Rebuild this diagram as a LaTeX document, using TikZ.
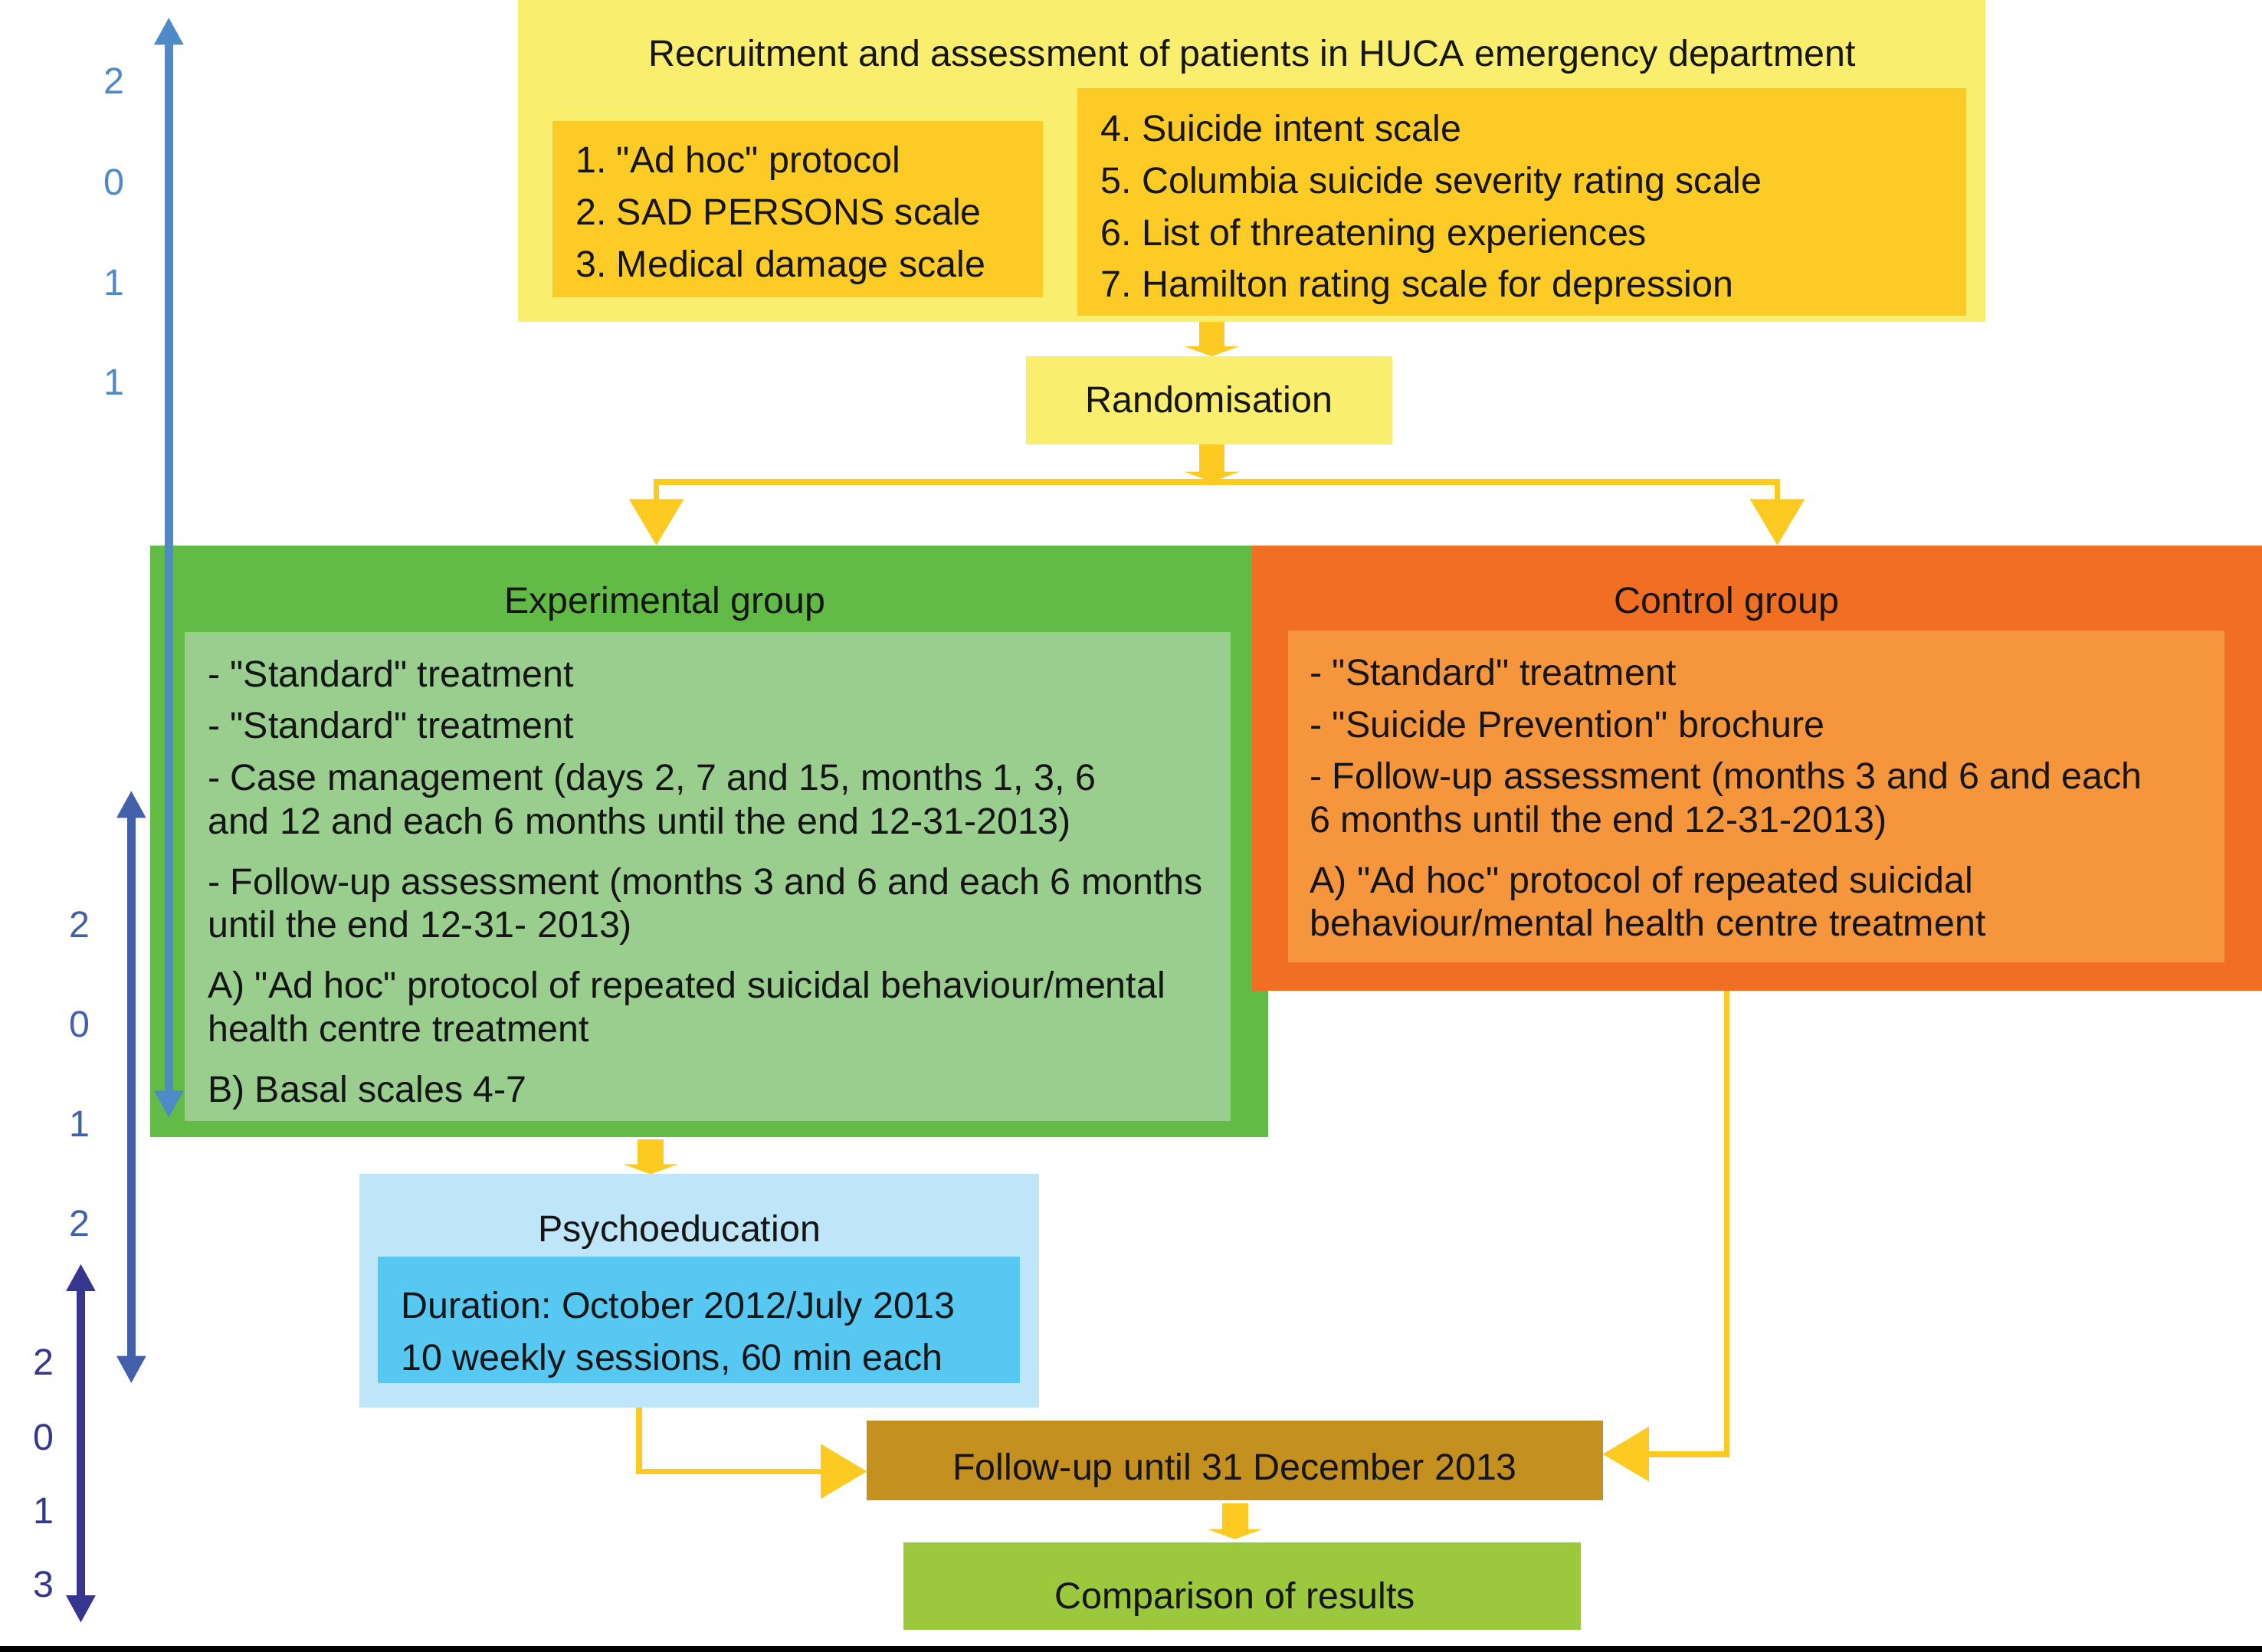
\documentclass[tikz,border=0pt]{standalone}
\usepackage{fontspec}
\setmainfont{Liberation Sans}[Ligatures=TeXOff]
\usetikzlibrary{arrows.meta}
\newcommand\myfs{\fontsize{25.7}{30}\selectfont\frenchspacing}
\definecolor{ylight}{HTML}{FAEE6E}
\definecolor{ydark}{HTML}{FDCB26}
\definecolor{connc}{HTML}{FDCA21}
\definecolor{gout}{HTML}{62BB46}
\definecolor{gin}{HTML}{99CE8F}
\definecolor{oout}{HTML}{F16F22}
\definecolor{oin}{HTML}{F6963C}
\definecolor{bout}{HTML}{BFE6F8}
\definecolor{bin}{HTML}{56C8F2}
\definecolor{folc}{HTML}{C4901F}
\definecolor{cmpc}{HTML}{9BC83D}
\definecolor{aonec}{HTML}{4F8AC8}
\definecolor{atwoc}{HTML}{4360AA}
\definecolor{athreec}{HTML}{37368F}
\definecolor{txtc}{HTML}{151515}
\begin{document}
\begin{tikzpicture}[x=1pt,y=-1pt,
  box/.style={inner sep=0pt,outer sep=0pt,anchor=north west,draw=none},
  txt/.style={inner sep=0pt,outer sep=0pt,anchor=base west,font=\myfs,text=txtc},
  ctxt/.style={inner sep=0pt,outer sep=0pt,anchor=base,font=\myfs,text=txtc},
  num/.style={inner sep=0pt,outer sep=0pt,anchor=base,font=\myfs},
  conn/.style={draw=connc,line width=4pt},
  tipc/.style={-{Triangle[width=37pt,length=32pt]}},
  blk/.style={draw=connc,line width=18pt,-{Triangle[width=38pt,length=7pt]}},
  dbl/.style={line width=6pt,{Triangle[width=19pt,length=19pt]}-{Triangle[width=19pt,length=19pt]}}
]
\useasboundingbox (0,0) rectangle (1568,1145);
\fill[white] (0,0) rectangle (1568,1145);

% boxes
\node[box,fill=ylight,minimum width=1017pt,minimum height=223pt] (top) at (359,0) {};
\node[box,fill=ydark,minimum width=340pt,minimum height=122pt] (tl) at (383,84) {};
\node[box,fill=ydark,minimum width=616pt,minimum height=158pt] (tr) at (747,61) {};
\node[box,fill=ylight,minimum width=254pt,minimum height=61pt] (rand) at (711,247) {};
\node[box,fill=gout,minimum width=775pt,minimum height=410pt] (exp) at (104,378) {};
\node[box,fill=gin,minimum width=725pt,minimum height=339pt] (expin) at (128,438) {};
\node[box,fill=oout,minimum width=700pt,minimum height=309pt] (ctl) at (868,378) {};
\node[box,fill=oin,minimum width=649pt,minimum height=230pt] (ctlin) at (893,437) {};
\node[box,fill=bout,minimum width=471pt,minimum height=162pt] (psy) at (249,814) {};
\node[box,fill=bin,minimum width=445pt,minimum height=88pt] (psyin) at (262,871) {};
\node[box,fill=folc,minimum width=510pt,minimum height=55pt] (fol) at (601,985) {};
\node[box,fill=cmpc,minimum width=470pt,minimum height=61pt] (cmp) at (626,1069) {};

% alignment coordinates
\coordinate (xA) at (840,0);
\coordinate (xB) at (451,0);
\coordinate (xC) at (856,0);
\coordinate (xD) at (443,0);
\coordinate (yD) at (0,1020);
\coordinate (xE) at (1197,0);
\coordinate (yE) at (0,1008);
\coordinate (xF) at (455,0);
\coordinate (xG) at (1232,0);
\coordinate (split) at (840,334);

% connectors
\draw[blk] (top.south -| xA) -- (rand.north -| xA);
\draw[blk] (rand.south -| xA) -- (split);
\draw[conn,tipc] (split) -| (exp.north -| xF);
\draw[conn,tipc] (split) -| (ctl.north -| xG);
\draw[blk] ([yshift=-2pt]exp.south -| xB) -- (psy.north -| xB);
\draw[conn,tipc] (psy.south -| xD) |- (fol.west |- yD);
\draw[conn,tipc] (ctl.south -| xE) |- (fol.east |- yE);
\draw[blk] ([yshift=-2pt]fol.south -| xC) -- ([yshift=2pt]cmp.north -| xC);

% texts
\node[ctxt] (ttitle) at (868,46) {Recruitment and assessment of patients in HUCA emergency department};
\node[txt] (tl1) at (399,120) {1. "Ad hoc" protocol};
\node[txt] (tl2) at (399,156) {2. SAD PERSONS scale};
\node[txt] (tl3) at (399,192) {3. Medical damage scale};
\node[txt] (tr1) at (763,98) {4. Suicide intent scale};
\node[txt] (tr2) at (763,134) {5. Columbia suicide severity rating scale};
\node[txt] (tr3) at (763,170) {6. List of threatening experiences};
\node[txt] (tr4) at (763,206) {7. Hamilton rating scale for depression};
\node[ctxt] (randt) at (838,286) {Randomisation};

\node[ctxt] (expt) at (461,425) {Experimental group};
\node[txt] (e1) at (144,476) {- "Standard" treatment};
\node[txt] (e2) at (144,512) {- "Standard" treatment};
\node[txt] (e3) at (144,548) {- Case management (days 2, 7 and 15, months 1, 3, 6};
\node[txt] (e4) at (144,578) {and 12 and each 6 months until the end 12-31-2013)};
\node[txt] (e5) at (144,620) {- Follow-up assessment (months 3 and 6 and each 6 months};
\node[txt] (e6) at (144,650) {until the end 12-31- 2013)};
\node[txt] (e7) at (144,692) {A) "Ad hoc" protocol of repeated suicidal behaviour/mental};
\node[txt] (e8) at (144,722) {health centre treatment};
\node[txt] (e9) at (144,764) {B) Basal scales 4-7};

\node[ctxt] (ctlt) at (1197,425) {Control group};
\node[txt] (c1) at (908,475) {- "Standard" treatment};
\node[txt] (c2) at (908,511) {- "Suicide Prevention" brochure};
\node[txt] (c3) at (908,547) {- Follow-up assessment (months 3 and 6 and each};
\node[txt] (c4) at (908,577) {6 months until the end 12-31-2013)};
\node[txt] (c5) at (908,619) {A) "Ad hoc" protocol of repeated suicidal};
\node[txt] (c6) at (908,649) {behaviour/mental health centre treatment};

\node[ctxt] (psyt) at (471,861) {Psychoeducation};
\node[txt] (p1) at (278,914) {Duration: October 2012/July 2013};
\node[txt] (p2) at (278,950) {10 weekly sessions, 60 min each};

\node[ctxt] (folt) at (856,1026) {Follow-up until 31 December 2013};
\node[ctxt] (cmpt) at (856,1115) {Comparison of results};

% time arrows
\coordinate (aonet) at (117,12);
\coordinate (aoneb) at (117,775);
\coordinate (atwot) at (91,548);
\coordinate (atwob) at (91,959);
\coordinate (athreet) at (56,876);
\coordinate (athreeb) at (56,1125);
\draw[dbl,aonec] (aonet) -- (aoneb);
\draw[dbl,atwoc] (atwot) -- (atwob);
\draw[dbl,athreec] (athreet) -- (athreeb);

\node[num,text=aonec] (n11) at (79,65) {2};
\node[num,text=aonec] (n12) at (79,135) {0};
\node[num,text=aonec] (n13) at (79,205) {1};
\node[num,text=aonec] (n14) at (79,274) {1};
\node[num,text=atwoc] (n21) at (55,650) {2};
\node[num,text=atwoc] (n22) at (55,719) {0};
\node[num,text=atwoc] (n23) at (55,788) {1};
\node[num,text=atwoc] (n24) at (55,857) {2};
\node[num,text=athreec] (n31) at (30,953) {2};
\node[num,text=athreec] (n32) at (30,1005) {0};
\node[num,text=athreec] (n33) at (30,1056) {1};
\node[num,text=athreec] (n34) at (30,1107) {3};

% bottom rule
\coordinate (rl) at (0,1141);
\coordinate (rr) at (1568,1145);
\fill[black] (rl) rectangle (rr);
\end{tikzpicture}
\end{document}
